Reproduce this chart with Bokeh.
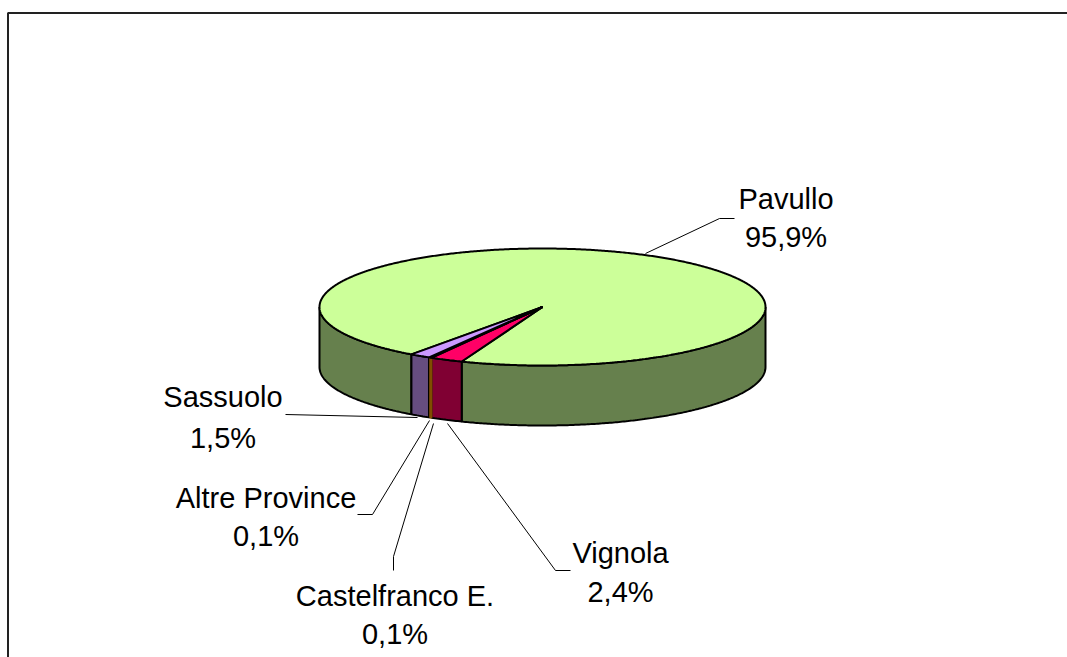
import numpy as np
from bokeh.plotting import figure
from bokeh.models import Range1d, ColumnDataSource
from bokeh.core.properties import value
from bokeh.embed import file_html
from bokeh.resources import INLINE

names = ["Pavullo", "Vignola", "Castelfranco E.", "Altre Province", "Sassuolo"]
shares = [95.9, 2.4, 0.1, 0.1, 1.5]
pct_labels = ["95,9%", "2,4%", "0,1%", "0,1%", "1,5%"]
top_colors = ["#CCFF99", "#FF0066", "#FF9900", "#000000", "#CC99FF"]
side_colors = ["#66804D", "#800033", "#804D00", "#000000", "#664D80"]
side_lines = ["#000000", "#000000", "#804D00", "#000000", "#000000"]

CX, CY, RX, RY, DEPTH = 542.0, 306.5, 223.0, 58.5, 60.0
START = 216.0

name_x = [785.5, 620, 394.5, 265.5, 222.5]
name_y = [198, 552, 595, 497, 396]
pct_y = [236, 591, 633.5, 535, 437]
leaders = [
    [(734, 218), (719, 218), (645, 253)],
    [(570, 570), (555, 570), (447, 423)],
    [(393, 570), (393, 556), (433, 423)],
    [(357, 514), (372, 514), (429, 420)],
    [(285, 414), (417, 417)],
]

W, H = 1067, 657
p = figure(width=W, height=H, output_backend="svg", toolbar_location=None,
           x_range=Range1d(0, W), y_range=Range1d(H, 0), min_border=0)
p.axis.visible = False
p.grid.visible = False
p.outline_line_color = None
p.background_fill_color = "white"


def pt(a):
    r = np.radians(a)
    return CX + RX * np.sin(r), CY - RY * np.cos(r)


edges = START + np.cumsum([0] + shares) * 3.6

# visible front wall of each slice
sx, sy, sf, sl = [], [], [], []
for i in range(len(shares)):
    a0, a1 = edges[i], edges[i + 1]
    for lo, hi in [(90, 270), (450, 630)]:
        u0, u1 = max(a0, lo), min(a1, hi)
        if u1 <= u0:
            continue
        ang = np.linspace(u0, u1, max(2, int((u1 - u0) * 2)))
        x, y = pt(ang)
        sx.append(np.concatenate([x, x[::-1]]))
        sy.append(np.concatenate([y, y[::-1] + DEPTH]))
        sf.append(side_colors[i])
        sl.append(side_lines[i])
order = sorted(range(len(sf)), key=lambda k: sl[k] != "#000000")
p.patches("x", "y", source=ColumnDataSource(dict(
    x=[sx[k] for k in order], y=[sy[k] for k in order],
    f=[sf[k] for k in order], l=[sl[k] for k in order])),
    fill_color="f", line_color="l", line_width=2)

# top face
tx, ty = [], []
for i in range(len(shares)):
    ang = np.linspace(edges[i], edges[i + 1], max(2, int(shares[i] * 8)))
    x, y = pt(ang)
    tx.append(np.concatenate([[CX], x]))
    ty.append(np.concatenate([[CY], y]))
p.patches(tx, ty, fill_color=top_colors, line_color="#000000", line_width=2)

# leader lines
p.multi_line([[q[0] for q in l] for l in leaders], [[q[1] for q in l] for l in leaders],
             line_color="#000000", line_width=1)

# chart frame (only its left and top sides are in view)
p.line([7.5, 7.5, W], [H, 12.5, 12.5], line_color="#222222", line_width=2)

common = dict(text_font=value("Liberation Sans"), text_font_size="29px",
              text_align="center", text_baseline="middle", text_color="#000000")
p.text(name_x, name_y, text=names, **common)
p.text(name_x, pct_y, text=pct_labels, **common)

open("out.html", "w").write(file_html(p, INLINE))
